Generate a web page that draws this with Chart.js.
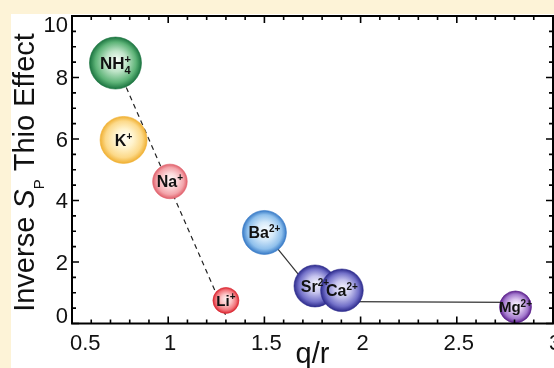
<!DOCTYPE html>
<html>
<head>
<meta charset="utf-8">
<script src="https://cdn.jsdelivr.net/npm/chart.js@4/dist/chart.umd.min.js"></script>
<style>
  html, body { margin: 0; padding: 0; background: #fdf3d7; overflow: hidden; }
  #c { display: block; }
</style>
</head>
<body>
<canvas id="c" width="554" height="368"></canvas>
<script>
// ion labels (symbol, subscript, charge)
const ions = ['NH', 'K', 'Na', 'Li', 'Ba', 'Sr', 'Ca', 'Mg'];
const ionSub = ['4', '', '', '', '', '', '', ''];
const ionCharge = ['+', '+', '+', '+', '2+', '2+', '2+', '2+'];

// q/r and inverse Sp thio effect
const chargeRadius = [0.726, 0.768, 1.009, 1.30, 1.50, 1.763, 1.903, 2.805];
const inverseThio = [8.47, 5.97, 4.62, 0.75, 2.96, 1.22, 1.08, 0.54];

// guide lines
const monoLineX = [0.726, 1.30];
const monoLineY = [8.48, 0.25];
const baSrLineX = [1.50, 1.763];
const baSrLineY = [2.96, 0.93];
const caMgLineX = [1.903, 2.805];
const caMgLineY = [0.71, 0.69];

// axes
const xMin = 0.5, xMax = 3.0, xStep = 0.5, xMinor = 5;
const yMin = 0, yMax = 10, yStep = 2, yMinor = 4;

// bubble sizes (px) and colours
const bubblePx = [26, 23.5, 17.3, 13, 22, 21, 21.3, 16];
const labelPx = [17, 16, 16, 15, 16, 16, 16, 15];
const palette = [
  ['#f6fcf7', '#bfe4c8', '#5db377', '#1b7440'],
  ['#fffef8', '#fff3cc', '#fcd989', '#f0b033'],
  ['#fff8f8', '#fcd8da', '#f3a4aa', '#e0606b'],
  ['#fff4f4', '#fcc6c8', '#f2767c', '#da2631'],
  ['#f8fcff', '#d4e9fa', '#8fc0ec', '#3679c6'],
  ['#f3f2fc', '#c6c4ee', '#7270c8', '#2c2a8c'],
  ['#f3f2fc', '#c6c4ee', '#7270c8', '#2c2a8c'],
  ['#f9f3fd', '#dcc5ef', '#a277cc', '#5b1f8b']
];

const FONT = 'Helvetica, Arial, "Liberation Sans", sans-serif';

function pts(xs, ys) {
  return xs.map((x, i) => ({ x: x, y: ys[i] }));
}

function bubbleFill(c) {
  if (c.type !== 'data') return '#888';
  const chart = c.chart;
  const i = c.dataIndex;
  const p = palette[i];
  if (!chart.scales || !chart.scales.x || !chart.scales.y) return p[2];
  const px = chart.scales.x.getPixelForValue(chargeRadius[i]);
  const py = chart.scales.y.getPixelForValue(inverseThio[i]);
  if (!isFinite(px) || !isFinite(py)) return p[2];
  const r = bubblePx[i];
  const g = chart.ctx.createRadialGradient(px + r * 0.05, py - r * 0.12, 0, px, py, r);
  g.addColorStop(0, p[0]);
  g.addColorStop(0.4, p[1]);
  g.addColorStop(0.78, p[2]);
  g.addColorStop(1, p[3]);
  return g;
}

// draw text made of pieces with different fonts / offsets
function richWidth(ctx, parts) {
  let w = 0;
  parts.forEach(p => { ctx.font = p.font; w += p.stack ? 0 : ctx.measureText(p.t).width; });
  return w;
}
function drawRich(ctx, parts, x, y) {
  let cx = x;
  parts.forEach(p => {
    ctx.font = p.font;
    ctx.fillText(p.t, cx, y + (p.dy || 0));
    if (!p.stack) cx += ctx.measureText(p.t).width;
  });
}

const decorPlugin = {
  id: 'decor',
  beforeDraw(chart) {
    const ctx = chart.ctx;
    ctx.save();
    ctx.fillStyle = '#fdf3d7';
    ctx.fillRect(0, 0, chart.width, chart.height);
    ctx.fillStyle = '#ffffff';
    ctx.fillRect(11, 14, chart.width - 11, chart.height - 14);
    ctx.restore();
  },
  afterDatasetsDraw(chart) {
    const ctx = chart.ctx;
    const a = chart.chartArea;
    const xs = chart.scales.x, ys = chart.scales.y;
    ctx.save();

    // frame
    ctx.strokeStyle = '#000';
    ctx.lineWidth = 2;
    ctx.strokeRect(a.left, a.top, a.right - a.left, a.bottom - a.top);

    // inward ticks
    ctx.lineWidth = 1.6;
    ctx.beginPath();
    const xt = xs.ticks.map(t => t.value);
    for (let k = 0; k < xt.length; k++) {
      const v = xt[k];
      const p = xs.getPixelForValue(v);
      ctx.moveTo(p, a.bottom); ctx.lineTo(p, a.bottom - 7);
      ctx.moveTo(p, a.top); ctx.lineTo(p, a.top + 7);
      if (k < xt.length - 1) {
        for (let m = 1; m < xMinor; m++) {
          const q = xs.getPixelForValue(v + m * xStep / xMinor);
          ctx.moveTo(q, a.bottom); ctx.lineTo(q, a.bottom - 4);
          ctx.moveTo(q, a.top); ctx.lineTo(q, a.top + 4);
        }
      }
    }
    const yt = ys.ticks.map(t => t.value);
    for (let k = 0; k < yt.length; k++) {
      const v = yt[k];
      const p = ys.getPixelForValue(v);
      ctx.moveTo(a.left, p); ctx.lineTo(a.left + 7, p);
      ctx.moveTo(a.right, p); ctx.lineTo(a.right - 7, p);
      if (k < yt.length - 1) {
        for (let m = 1; m < yMinor; m++) {
          const q = ys.getPixelForValue(v + m * yStep / yMinor);
          ctx.moveTo(a.left, q); ctx.lineTo(a.left + 4, q);
          ctx.moveTo(a.right, q); ctx.lineTo(a.right - 4, q);
        }
      }
    }
    ctx.stroke();

    // tick labels
    ctx.fillStyle = '#111';
    ctx.font = '22px ' + FONT;
    ctx.textBaseline = 'alphabetic';
    xs.ticks.forEach((t, k) => {
      const p = xs.getPixelForValue(t.value);
      ctx.textAlign = k === 0 ? 'left' : 'center';
      ctx.fillText(t.label, k === 0 ? p - 2 : p + 2, 349.5);
    });
    ctx.textAlign = 'right';
    ys.ticks.forEach((t, k) => {
      const p = ys.getPixelForValue(t.value);
      let by = p + 7.5;
      if (k === 0) by = a.bottom - 0.5;
      if (k === ys.ticks.length - 1) by = a.top + 16;
      ctx.fillText(t.label, 68, by);
    });

    // axis titles
    ctx.textAlign = 'left';
    ctx.font = '29px ' + FONT;
    const xt0 = 'q/r';
    const xw = ctx.measureText(xt0).width;
    ctx.fillText(xt0, (a.left + a.right) / 2 - xw / 2, 362.5);

    const yParts = [
      { t: 'Inverse ', font: '29px ' + FONT },
      { t: 'S', font: 'italic 29px ' + FONT },
      { t: 'P', font: '15px ' + FONT, dy: 10 },
      { t: ' Thio Effect', font: '29px ' + FONT }
    ];
    const yw = richWidth(ctx, yParts);
    ctx.translate(34, 172.5);
    ctx.rotate(-Math.PI / 2);
    drawRich(ctx, yParts, -yw / 2, 0);
    ctx.setTransform(1, 0, 0, 1, 0, 0);

    // bubble labels
    const meta = chart.getDatasetMeta(3);
    meta.data.forEach((el, i) => {
      const s = labelPx[i];
      const main = 'bold ' + s + 'px ' + FONT;
      const small = 'bold ' + Math.round(s * 0.64) + 'px ' + FONT;
      const parts = [{ t: ions[i], font: main }];
      if (ionSub[i]) parts.push({ t: ionSub[i], font: small, dy: s * 0.3, stack: true });
      parts.push({ t: ionCharge[i], font: small, dy: -s * 0.36 });
      const w = richWidth(ctx, parts);
      ctx.fillStyle = '#111';
      drawRich(ctx, parts, el.x - w / 2, el.y + s * 0.36);
    });

    ctx.restore();
  }
};

const chart = new Chart(document.getElementById('c'), {
  type: 'bubble',
  data: {
    datasets: [
      {
        type: 'line',
        data: pts(monoLineX, monoLineY),
        borderColor: '#222',
        borderWidth: 1.2,
        borderDash: [5, 4],
        pointRadius: 0,
        fill: false,
        order: 2
      },
      {
        type: 'line',
        data: pts(baSrLineX, baSrLineY),
        borderColor: '#333',
        borderWidth: 1.2,
        pointRadius: 0,
        fill: false,
        order: 2
      },
      {
        type: 'line',
        data: pts(caMgLineX, caMgLineY),
        borderColor: '#333',
        borderWidth: 1.2,
        pointRadius: 0,
        fill: false,
        order: 2
      },
      {
        data: chargeRadius.map((x, i) => ({ x: x, y: inverseThio[i], r: bubblePx[i] })),
        backgroundColor: bubbleFill,
        borderColor: c => palette[c.dataIndex] ? palette[c.dataIndex][3] : '#000',
        borderWidth: 0.6,
        clip: false,
        order: 1
      }
    ]
  },
  options: {
    responsive: false,
    animation: false,
    events: [],
    layout: { autoPadding: false, padding: { left: 72, top: 16, right: 1, bottom: 44.5 } },
    plugins: { legend: { display: false }, tooltip: { enabled: false } },
    scales: {
      x: {
        type: 'linear',
        display: false,
        min: xMin,
        max: xMax,
        ticks: { stepSize: xStep, callback: v => String(v) }
      },
      y: {
        type: 'linear',
        display: false,
        min: yMin,
        max: yMax,
        ticks: { stepSize: yStep, callback: v => String(v) }
      }
    }
  },
  plugins: [decorPlugin]
});
chart.update('none');
</script>
</body>
</html>
